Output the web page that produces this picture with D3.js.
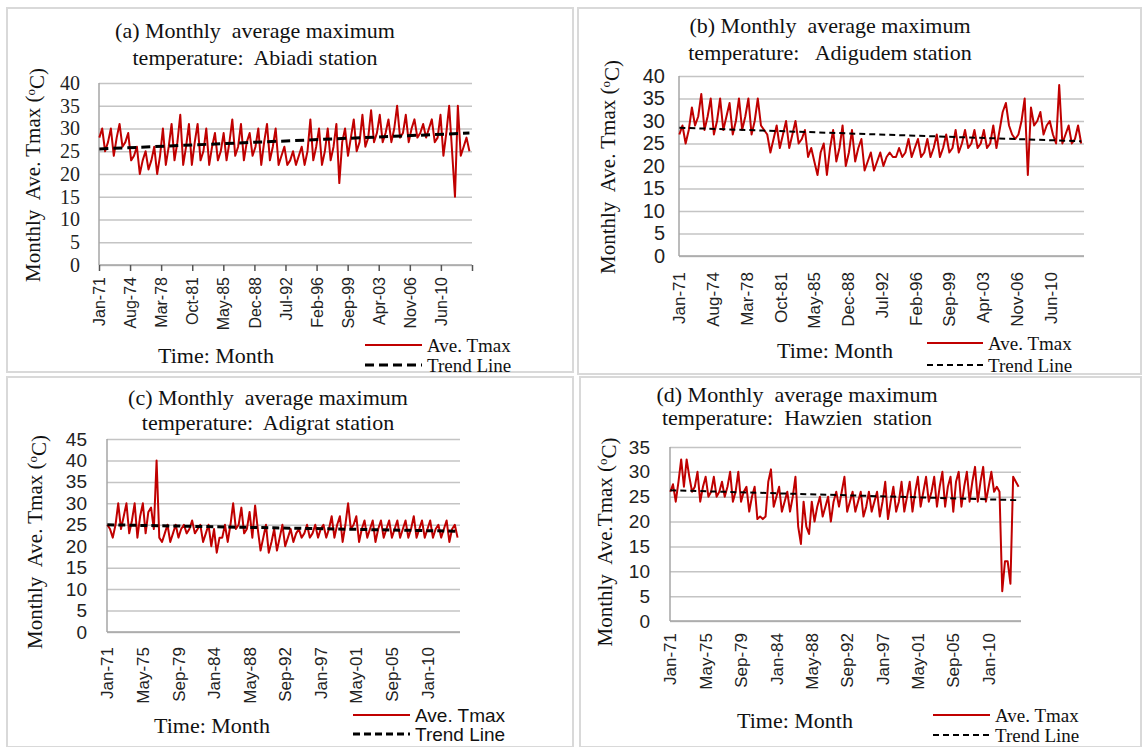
<!DOCTYPE html>
<html>
<head>
<meta charset="utf-8">
<script src="https://cdn.jsdelivr.net/npm/d3@7"></script>
<style>
body { margin: 0; background: #fff; }
</style>
</head>
<body>
<script>

// Monthly average Tmax: one value every 4 months
// (Jan, May, Sep) from Jan-1971 to Sep-2013
var abiadi = [
    28,30,25, 27,30,24, 28,31,26, 27,29,23, 24,26,20,   // 1971-75
    23,25,21, 23,26,20, 24,30,22, 26,31,23, 27,33,22,   // 1976-80
    26,31,22, 27,31,23, 25,30,22, 26,29,23, 25,29,23,   // 1981-85
    27,32,24, 26,31,23, 27,29,24, 26,30,22, 27,31,23,   // 1986-90
    26,30,22, 24,26,22, 23,25,22, 24,26,22, 25,32,23,   // 1991-95
    26,30,22, 25,30,23, 26,31,18, 27,30,24, 28,32,25,   // 1996-00
    27,33,26, 28,34,27, 29,33,27, 29,32,27, 30,35,28,   // 2001-05
    29,33,27, 30,32,28, 29,31,28, 30,32,27, 28,33,24,   // 2006-10
    29,35,25, 15,35,24, 26,28,25                        // 2011-13
];
var adigudem = [
    27,29,25, 28,33,29, 31,36,28, 31,35,27, 30,35,28,
    31,34,27, 30,35,28, 31,35,27, 30,35,29, 28,27,23,
    26,29,24, 27,30,24, 27,30,25, 26,28,22, 24,21,18,
    23,25,18, 24,28,21, 24,29,20, 23,28,21, 24,26,19,
    21,23,19, 21,23,20, 22,23,22, 22,24,22, 23,26,22,
    24,26,22, 23,26,22, 24,27,22, 24,27,23, 24,28,23,
    25,28,24, 25,28,24, 25,28,24, 25,29,24, 28,32,34,
    29,27,26, 27,30,35, 18,33,29, 30,32,27, 29,30,27,
    25,38,25, 27,29,25, 26,29,25
];
var adigrat = [
    25,24,22, 25,30,24, 27,30,23, 26,30,22, 27,30,23,
    28,29,24, 40,22,21, 23,25,21, 23,25,22, 24,25,23,
    24,26,23, 24,25,21, 23,25,20, 24,18.5,22, 22,25,21,
    25,30,24, 25,29,23, 24,28,22, 29.5,24,19, 22,25,18.5,
    21,24,19, 22,25,20, 22,24,21, 23,24,22, 23,25,22,
    23,25,22, 24,25,22, 24,27,22, 25,27,21, 25,30,24,
    25,27,21, 24,26,22, 24,26,21, 24,26,22, 24,26,22,
    24,26,22, 24,26,22, 24,27,22, 24,26,22, 24,26,22,
    24,25,22, 24,26,21, 24,25,22
];
var hawzien = [
    26,27.5,24, 28,32.5,27, 32.5,29,26, 27,30,24, 27,29,25,
    26,29,25, 26,28,25, 27,30,24, 26,30,24, 26,27,22,
    25,27,20.5, 21,20.5,21, 28,30.5,23, 25,27,22, 24,26,22,
    25,29,19, 15.5,24,19, 17.5,24,20, 23,25,21, 23,25,20,
    24,26,23, 26,29,22, 24,26,22, 24,26,21, 23,26,22,
    24,26,21, 24,28,20.5, 24,27,22, 24,28,22, 25,28,22,
    26,29,23, 26,29,24, 26,29,23, 27,30,23, 27,29,22,
    28,30,23, 27,30,24, 28,31,24, 28,31,24, 27,30,26,
    27,26,6, 12,12,7.5, 29,28,27
];

// Trend line, start and end values
var trend_abiadi = [25.5, 29.0],
    trend_adigudem = [28.5, 25.5],
    trend_adigrat = [25.0, 23.5],
    trend_hawzien = [26.3, 24.3];

// Tick labels on the time axis
var ticks_ab = ["Jan-71","Aug-74","Mar-78","Oct-81","May-85","Dec-88","Jul-92","Feb-96","Sep-99","Apr-03","Nov-06","Jun-10"];
var ticks_cd = ["Jan-71","May-75","Sep-79","Jan-84","May-88","Sep-92","Jan-97","May-01","Sep-05","Jan-10"];

var titles = [
    ["(a) Monthly  average maximum", "temperature:  Abiadi station"],
    ["(b) Monthly  average maximum", "temperature:   Adigudem station"],
    ["(c) Monthly  average maximum", "temperature:  Adigrat station"],
    ["(d) Monthly  average maximum", "temperature:  Hawzien  station"]
];

var red_col = "#c00000",
    grid_col = "#c4c4c4";

var serif = "'Liberation Serif', 'Times New Roman', serif",
    sans = "'Liberation Sans', Arial, sans-serif";

var parse_tick = d3.timeParse("%b-%y"),
    fmt_tick = d3.timeFormat("%b-%y");

var svg = d3.select("body").append("svg")
    .attr("width", 1144)
    .attr("height", 747);

var panels = [
    { values: abiadi, trend: trend_abiadi, ticks: ticks_ab, title: titles[0],
      box: [7, 8, 573, 372], x0: 99, x1: 472, y0: 265, y1: 83, ymax: 40,
      titleX: 255, titleY: [38, 65], tickRight: 80, tickFont: serif, tickSize: 20,
      yLabX: 33, yLabY: 175, yLab: "Monthly  Ave. Tmax (", xGap: 12, xFont: 16, tickMarks: true,
      timeX: 216, timeY: 363, legX: [365, 422], legY: [345, 365], legTextX: 427,
      legFont: serif, trendW: 3, dash: "9,5" },
    { values: adigudem, trend: trend_adigudem, ticks: ticks_ab, title: titles[1],
      box: [578, 8, 1141, 374], x0: 679, x1: 1084, y0: 256, y1: 76, ymax: 40,
      titleX: 830, titleY: [33, 60], tickRight: 665, tickFont: sans, tickSize: 20,
      yLabX: 608, yLabY: 167, yLab: "Monthly  Ave. Tmax (", xGap: 16, xFont: 17, tickMarks: false,
      timeX: 835, timeY: 358, legX: [927, 983], legY: [343, 365], legTextX: 988,
      legFont: serif, trendW: 2, dash: "6,4" },
    { values: adigrat, trend: trend_adigrat, ticks: ticks_cd, title: titles[2],
      box: [7, 377, 573, 747], x0: 107, x1: 460, y0: 632, y1: 439, ymax: 45,
      titleX: 268, titleY: [405, 430], tickRight: 87, tickFont: sans, tickSize: 19,
      yLabX: 35, yLabY: 542, yLab: "Monthly  Ave. Tmax (", xGap: 15, xFont: 17, tickMarks: false,
      timeX: 212, timeY: 733, legX: [353, 410], legY: [715, 734], legTextX: 415,
      legFont: sans, trendW: 3, dash: "7,4" },
    { values: hawzien, trend: trend_hawzien, ticks: ticks_cd, title: titles[3],
      box: [580, 377, 1141, 747], x0: 670, x1: 1021, y0: 621, y1: 447, ymax: 35,
      titleX: 797, titleY: [402, 425], tickRight: 650, tickFont: sans, tickSize: 19,
      yLabX: 605, yLabY: 542, yLab: "Monthly  Ave.Tmax (", xGap: 12, xFont: 17, tickMarks: false,
      timeX: 795, timeY: 728, legX: [933, 990], legY: [715, 735], legTextX: 995,
      legFont: serif, trendW: 2, dash: "6,4" }
];

function sample_date(i) {
    return new Date(1971, i * 4, 15);
}

function draw_panel(p) {

    var g = svg.append("g");

    // panel frame
    g.append("rect")
        .attr("x", p.box[0]).attr("y", p.box[1])
        .attr("width", p.box[2] - p.box[0])
        .attr("height", p.box[3] - p.box[1])
        .attr("fill", "none")
        .attr("stroke", "#d9d9d9")
        .attr("stroke-width", 2);

    var xScale = d3.scaleTime()
        .domain([new Date(1971, 0, 1), new Date(2014, 0, 1)])
        .range([p.x0, p.x1]);

    var yScale = d3.scaleLinear()
        .domain([0, p.ymax])
        .range([p.y0, p.y1]);

    var yticks = d3.range(0, p.ymax + 1, 5);

    // gridlines
    var grid = g.append("g")
        .attr("transform", "translate(" + p.x0 + ",0)")
        .call(d3.axisLeft(yScale).tickValues(yticks).tickSize(-(p.x1 - p.x0)).tickFormat(""));
    grid.select(".domain").remove();
    grid.selectAll("line").attr("stroke", grid_col).attr("stroke-width", 1.5);

    // y tick labels
    var yax = g.append("g")
        .attr("transform", "translate(" + p.x0 + ",0)")
        .call(d3.axisLeft(yScale).tickValues(yticks).tickSize(0).tickPadding(p.x0 - p.tickRight));
    yax.select(".domain").remove();
    yax.selectAll("text")
        .attr("font-family", p.tickFont)
        .attr("font-size", p.tickSize)
        .attr("fill", "#222");

    // axis lines
    g.append("line")
        .attr("x1", p.x0).attr("x2", p.x0)
        .attr("y1", yScale(p.ymax)).attr("y2", p.y0)
        .attr("stroke", "#a6a6a6").attr("stroke-width", 1.5);
    g.append("line")
        .attr("x1", p.x0).attr("x2", p.x1)
        .attr("y1", p.y0).attr("y2", p.y0)
        .attr("stroke", "#a6a6a6").attr("stroke-width", 1.5);

    // time axis
    var tickDates = p.ticks.map(parse_tick);
    if (p.tickMarks) tickDates.push(new Date(2014, 0, 1));
    var xax = g.append("g")
        .attr("transform", "translate(0," + p.y0 + ")")
        .call(d3.axisBottom(xScale).tickValues(tickDates)
              .tickFormat(function(d) { return p.ticks.indexOf(fmt_tick(d)) >= 0 ? fmt_tick(d) : ""; })
              .tickSize(p.tickMarks ? 6 : 0));
    xax.select(".domain").remove();
    xax.selectAll("line").attr("stroke", "#555").attr("stroke-width", 1.5);
    xax.selectAll("text")
        .attr("transform", "rotate(-90)")
        .attr("text-anchor", "end")
        .attr("x", -p.xGap)
        .attr("y", 0)
        .attr("dy", "0.35em")
        .attr("font-family", sans)
        .attr("font-size", p.xFont)
        .attr("fill", "#222");

    // data line
    var line = d3.line()
        .x(function(d, i) { return xScale(sample_date(i)); })
        .y(function(d) { return yScale(d); });

    g.append("path")
        .datum(p.values)
        .attr("d", line)
        .attr("fill", "none")
        .attr("stroke", red_col)
        .attr("stroke-width", 2)
        .attr("stroke-linejoin", "round");

    // trend line
    var n = p.values.length;
    g.append("line")
        .attr("x1", xScale(sample_date(0))).attr("y1", yScale(p.trend[0]))
        .attr("x2", xScale(sample_date(n - 1))).attr("y2", yScale(p.trend[1]))
        .attr("stroke", "black")
        .attr("stroke-width", p.trendW)
        .attr("stroke-dasharray", p.dash);

    // titles
    g.selectAll(".title")
        .data(p.title)
        .enter().append("text")
        .attr("x", p.titleX)
        .attr("y", function(d, i) { return p.titleY[i]; })
        .attr("text-anchor", "middle")
        .attr("font-family", serif)
        .attr("font-size", 22)
        .attr("fill", "#111")
        .style("white-space", "pre")
        .text(function(d) { return d; });

    // y axis title
    var yl = g.append("text")
        .attr("transform", "translate(" + p.yLabX + "," + p.yLabY + ") rotate(-90)")
        .attr("text-anchor", "middle")
        .attr("dy", "0.35em")
        .attr("font-family", serif)
        .attr("font-size", 21)
        .attr("fill", "#111")
        .style("white-space", "pre");
    yl.append("tspan").text(p.yLab);
    yl.append("tspan").attr("dy", "-0.45em").attr("font-size", 13).text("o");
    yl.append("tspan").attr("dy", "0.45em").text("C)");

    // x axis title
    g.append("text")
        .attr("x", p.timeX)
        .attr("y", p.timeY)
        .attr("text-anchor", "middle")
        .attr("font-family", serif)
        .attr("font-size", 22)
        .attr("fill", "#111")
        .text("Time: Month");

    // legend
    g.append("line")
        .attr("x1", p.legX[0]).attr("x2", p.legX[1])
        .attr("y1", p.legY[0]).attr("y2", p.legY[0])
        .attr("stroke", red_col).attr("stroke-width", 2);
    g.append("line")
        .attr("x1", p.legX[0]).attr("x2", p.legX[1])
        .attr("y1", p.legY[1]).attr("y2", p.legY[1])
        .attr("stroke", "black").attr("stroke-width", p.trendW)
        .attr("stroke-dasharray", p.dash);

    g.selectAll(".legtext")
        .data(["Ave. Tmax", "Trend Line"])
        .enter().append("text")
        .attr("x", p.legTextX)
        .attr("y", function(d, i) { return p.legY[i]; })
        .attr("dy", "0.35em")
        .attr("font-family", p.legFont)
        .attr("font-size", 19)
        .attr("fill", "#111")
        .text(function(d) { return d; });
}

panels.forEach(draw_panel);

</script>
</body>
</html>
